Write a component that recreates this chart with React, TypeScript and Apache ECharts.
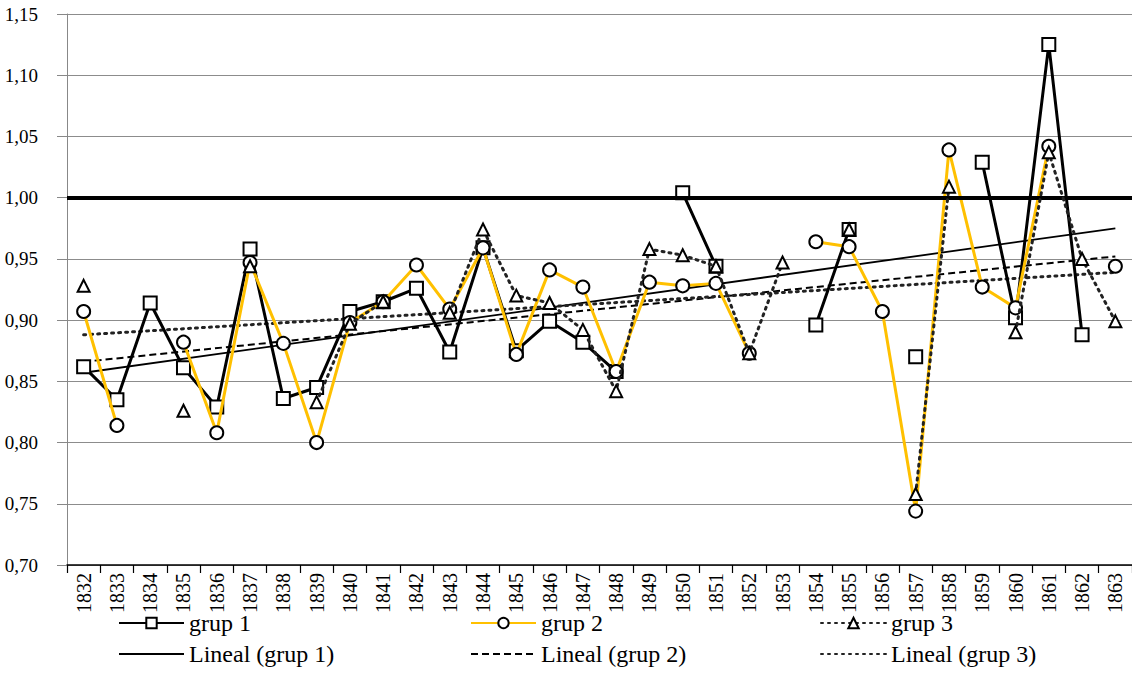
import React, { useEffect, useRef } from "react";
import * as echarts from "echarts";

const years = [
  "1832", "1833", "1834", "1835", "1836", "1837", "1838", "1839", "1840", "1841",
  "1842", "1843", "1844", "1845", "1846", "1847", "1848", "1849", "1850", "1851",
  "1852", "1853", "1854", "1855", "1856", "1857", "1858", "1859", "1860", "1861",
  "1862", "1863",
];

const grup1 = [
  0.862, 0.835, 0.914, 0.861, 0.829, 0.958, 0.836, 0.845, 0.907, 0.915,
  0.926, 0.874, 0.959, 0.875, 0.899, 0.882, 0.858, null, 1.004, 0.944,
  null, null, 0.896, 0.974, null, 0.870, null, 1.029, 0.902, 1.125,
  0.888, null,
];

const grup2 = [
  0.907, 0.814, null, 0.882, 0.808, 0.947, 0.881, 0.800, 0.898, 0.915,
  0.945, 0.909, 0.959, 0.872, 0.941, 0.927, 0.858, 0.931, 0.928, 0.930,
  0.873, null, 0.964, 0.960, 0.907, 0.744, 1.039, 0.927, 0.910, 1.042,
  null, 0.944,
];

const grup3 = [
  0.928, null, null, 0.826, null, 0.944, null, 0.833, 0.897, 0.915,
  null, 0.906, 0.974, 0.920, 0.914, 0.892, 0.842, 0.958, 0.953, 0.944,
  0.873, 0.947, null, 0.974, null, 0.758, 1.009, null, 0.890, 1.037,
  0.950, 0.899,
];

// trend line end values (first and last year)
const trend1 = [0.857, 0.975];
const trend2 = [0.866, 0.952];
const trend3 = [0.888, 0.939];

const refValue = 1.0;

const FONT = "Liberation Serif";

export default function App() {
  const ref = useRef<HTMLDivElement>(null);

  useEffect(() => {
    if (!ref.current) return;
    const chart = echarts.init(ref.current, null, { renderer: "svg" });
    const first = years[0];
    const last = years[years.length - 1];
    const legendText = { fontFamily: FONT, fontSize: 24, color: "#000", lineHeight: 24 };
    const legendBase = {
      itemWidth: 65,
      itemHeight: 13,
      itemGap: 0,
      padding: 0,
      textStyle: legendText,
      selectedMode: false,
    };
    const hideSym = { itemStyle: { opacity: 0 } };
    const option = {
      animation: false,
      backgroundColor: "#fff",
      textStyle: { fontFamily: FONT, color: "#000" },
      grid: { left: 67, top: 14, width: 1069, height: 551, containLabel: false },
      xAxis: [{
        type: "category",
        data: years,
        boundaryGap: true,
        axisLine: { show: true, lineStyle: { color: "#000", width: 1.5 } },
        axisTick: { show: true, alignWithLabel: false, length: 8, lineStyle: { color: "#000", width: 1.2 } },
        axisLabel: {
          show: true,
          rotate: 90,
          margin: 8,
          interval: 0,
          fontFamily: FONT,
          fontSize: 20,
          color: "#000",
        },
        splitLine: { show: false },
      }],
      yAxis: [{
        type: "value",
        min: 0.7,
        max: 1.15,
        interval: 0.05,
        axisLine: { show: true, lineStyle: { color: "#888", width: 1 } },
        axisTick: { show: true, inside: false, length: 10, lineStyle: { color: "#888", width: 1 } },
        axisLabel: {
          show: true,
          margin: 29,
          fontFamily: FONT,
          fontSize: 19,
          color: "#000",
          formatter: (v: number) => v.toFixed(2).replace(".", ","),
        },
        splitLine: { show: true, lineStyle: { color: "#8c8c8c", width: 1 } },
      }],
      legend: [
        { ...legendBase, left: 118, top: 611, data: ["grup 1"] },
        { ...legendBase, left: 470, top: 611, data: ["grup 2"] },
        { ...legendBase, left: 820, top: 611, data: ["grup 3"] },
        { ...legendBase, ...hideSym, left: 118, top: 642, data: ["Lineal (grup 1)"] },
        { ...legendBase, ...hideSym, left: 470, top: 642, data: ["Lineal (grup 2)"] },
        { ...legendBase, ...hideSym, left: 820, top: 642, data: ["Lineal (grup 3)"] },
      ],
      series: [
        {
          name: "grup 1",
          type: "line",
          data: grup1,
          connectNulls: false,
          symbol: "rect",
          symbolSize: 13,
          showAllSymbol: true,
          lineStyle: { color: "#000", width: 3 },
          itemStyle: { color: "#fff", borderColor: "#000", borderWidth: 2 },
          z: 3,
          markLine: {
            silent: true,
            symbol: "none",
            label: { show: false },
            lineStyle: { color: "#000", width: 4, type: "solid" },
            data: [{ yAxis: refValue }],
          },
        },
        {
          name: "grup 2",
          type: "line",
          data: grup2,
          connectNulls: false,
          symbol: "circle",
          symbolSize: 13,
          showAllSymbol: true,
          lineStyle: { color: "#FFC000", width: 3 },
          itemStyle: { color: "#fff", borderColor: "#000", borderWidth: 2 },
          z: 4,
        },
        {
          name: "grup 3",
          type: "line",
          data: grup3,
          connectNulls: false,
          symbol: "triangle",
          symbolSize: 12,
          showAllSymbol: true,
          lineStyle: { color: "#222", width: 3, type: [2, 5], cap: "round" },
          itemStyle: { color: "#fff", borderColor: "#000", borderWidth: 2 },
          z: 5,
        },
        {
          name: "Lineal (grup 1)",
          type: "line",
          data: [[first, trend1[0]], [last, trend1[1]]],
          symbol: "none",
          lineStyle: { color: "#000", width: 1.8, type: "solid" },
          itemStyle: { color: "#000" },
          z: 2,
        },
        {
          name: "Lineal (grup 2)",
          type: "line",
          data: [[first, trend2[0]], [last, trend2[1]]],
          symbol: "none",
          lineStyle: { color: "#000", width: 2, type: [7, 4] },
          itemStyle: { color: "#000" },
          z: 2,
        },
        {
          name: "Lineal (grup 3)",
          type: "line",
          data: [[first, trend3[0]], [last, trend3[1]]],
          symbol: "none",
          lineStyle: { color: "#222", width: 3, type: [2, 5], cap: "round" },
          itemStyle: { color: "#000" },
          z: 2,
        },
      ],
    };
    chart.setOption(option as any);
    return () => chart.dispose();
  }, []);

  return (
    <div
      ref={ref}
      style={{ position: "absolute", left: 0, top: 0, width: 1132, height: 695, background: "#fff", fontFamily: "Liberation Serif" }}
    />
  );
}
